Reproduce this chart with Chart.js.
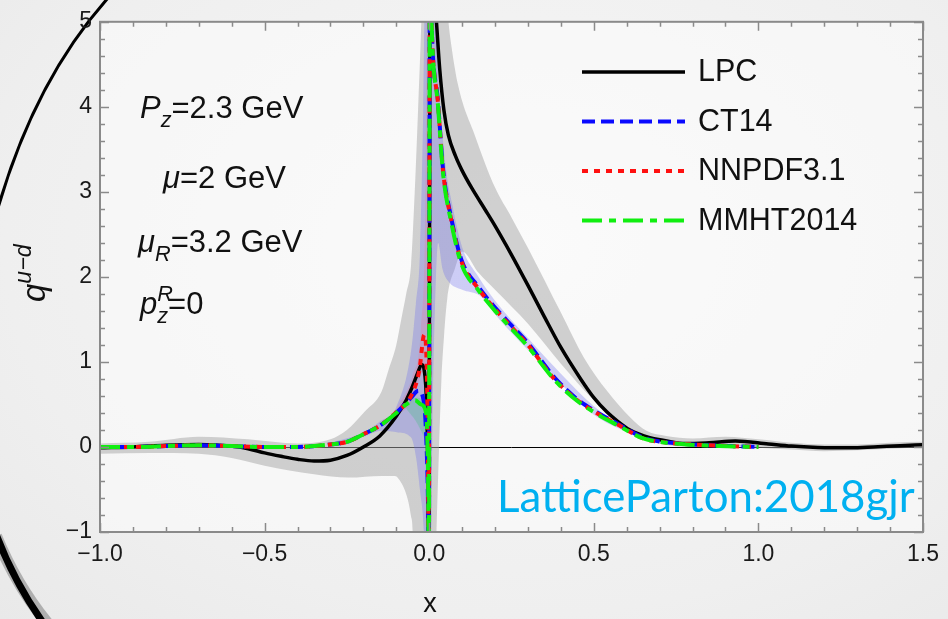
<!DOCTYPE html>
<html>
<head>
<meta charset="utf-8">
<script src="https://cdn.jsdelivr.net/npm/chart.js@4.4.1/dist/chart.umd.min.js"></script>
<style>
  html, body { margin: 0; padding: 0; }
  body { width: 948px; height: 619px; background: radial-gradient(ellipse at 55% 40%, #f7f7f7 0%, #efefef 70%, #e9e9e9 100%); }
  #wrap { position: relative; width: 948px; height: 619px; }
</style>
</head>
<body>
<div id="wrap"><canvas id="myChart" width="948" height="619"></canvas></div>
<script>
'use strict';
// данные

// LPC (чёрная линия)
const lpcX = [-1.0, -0.9, -0.8, -0.7, -0.6, -0.55, -0.5, -0.45, -0.4, -0.35, -0.3, -0.25, -0.2, -0.15, -0.1, -0.07, -0.05, -0.035, -0.023, -0.015, -0.008, -0.004, -0.001,
  0.003, 0.022, 0.032, 0.045, 0.058, 0.08, 0.1, 0.13, 0.17, 0.2, 0.25, 0.3, 0.35, 0.4, 0.46, 0.5, 0.54, 0.57, 0.61, 0.67, 0.71, 0.78, 0.85, 0.93, 1.03, 1.1, 1.18, 1.28, 1.35, 1.43, 1.5];
const lpcY = [-0.01, 0.0, 0.02, 0.03, 0.01, -0.02, -0.07, -0.11, -0.145, -0.165, -0.155, -0.1, 0.0, 0.13, 0.36, 0.55, 0.72, 0.87, 0.97, 0.9, 0.5, -0.3, -1.5,
  6.0, 5.0, 4.44, 3.95, 3.67, 3.42, 3.25, 3.04, 2.79, 2.6, 2.26, 1.9, 1.53, 1.17, 0.8, 0.58, 0.41, 0.31, 0.2, 0.11, 0.08, 0.04, 0.05, 0.07, 0.035, 0.01, -0.005, -0.01, 0.0, 0.015, 0.025];

// общая правая ветвь для CT14 / NNPDF / MMHT
const pdfRightX = [0.002, 0.007, 0.027, 0.042, 0.067, 0.098, 0.15, 0.2, 0.25, 0.3, 0.38, 0.45, 0.5, 0.57, 0.65, 0.7, 0.78, 0.88, 1.0];
const ct14RightY = [6.0, 5.0, 4.05, 3.27, 2.69, 2.2, 1.88, 1.64, 1.43, 1.22, 0.82, 0.56, 0.43, 0.28, 0.11, 0.065, 0.035, 0.015, 0.0];
const nnpdfRightY = [6.0, 5.0, 4.03, 3.25, 2.67, 2.18, 1.86, 1.62, 1.41, 1.2, 0.8, 0.55, 0.42, 0.27, 0.1, 0.06, 0.035, 0.015, 0.0];
const mmhtRightY = [6.0, 5.0, 4.0, 3.22, 2.64, 2.15, 1.84, 1.6, 1.39, 1.18, 0.79, 0.54, 0.41, 0.26, 0.1, 0.06, 0.03, 0.012, 0.0];

// левая ветвь
const ct14LeftX = [-1.0, -0.9, -0.8, -0.7, -0.6, -0.5, -0.4, -0.35, -0.3, -0.25, -0.2, -0.15, -0.1, -0.055, -0.033, -0.02, -0.01, -0.003, -0.001];
const ct14LeftY = [0.0, 0.0, 0.01, 0.02, 0.01, 0.0, 0.0, 0.01, 0.03, 0.06, 0.15, 0.25, 0.4, 0.58, 0.66, 0.6, 0.2, -0.8, -1.5];
const nnpdfLeftX = [-1.0, -0.9, -0.8, -0.7, -0.6, -0.5, -0.4, -0.35, -0.3, -0.25, -0.2, -0.15, -0.1, -0.055, -0.03, -0.015, -0.008, -0.004, -0.001];
const nnpdfLeftY = [0.0, 0.0, 0.01, 0.02, 0.01, 0.0, 0.0, 0.01, 0.03, 0.06, 0.15, 0.25, 0.41, 0.6, 0.9, 1.32, 1.0, 0.0, -1.5];
const mmhtLeftX = [-1.0, -0.9, -0.8, -0.7, -0.6, -0.5, -0.4, -0.35, -0.3, -0.25, -0.2, -0.15, -0.1, -0.07, -0.043, -0.025, -0.009, -0.003, -0.001];
const mmhtLeftY = [0.0, 0.0, 0.01, 0.02, 0.01, 0.0, 0.0, 0.01, 0.03, 0.06, 0.15, 0.25, 0.4, 0.5, 0.55, 0.5, 0.39, -0.5, -1.5];

// полоса ошибок LPC
const lpcHiX = [-1.0, -0.85, -0.7, -0.55, -0.4, -0.3, -0.25, -0.195, -0.145, -0.124, -0.1, -0.085, -0.07, -0.055, -0.044, -0.033, -0.024, -0.02,
  0.04, 0.063, 0.088, 0.139, 0.2, 0.25, 0.3, 0.4, 0.47, 0.54, 0.61, 0.66, 0.72, 0.8, 0.9, 1.0, 1.1, 1.2, 1.3, 1.4, 1.5];
const lpcHiY = [0.04, 0.06, 0.12, 0.09, 0.04, 0.09, 0.2, 0.42, 0.65, 0.9, 1.2, 1.5, 1.8, 2.15, 3.0, 4.05, 5.0, 5.6,
  5.6, 4.84, 4.25, 3.66, 3.05, 2.7, 2.34, 1.58, 1.05, 0.66, 0.35, 0.19, 0.13, 0.1, 0.12, 0.09, 0.05, 0.03, 0.03, 0.05, 0.06];
const lpcLoX = [-1.0, -0.85, -0.7, -0.6, -0.5, -0.35, -0.245, -0.145, -0.104, -0.085, -0.074, -0.063, -0.055, -0.05, -0.048,
  0.018, 0.022, 0.03, 0.037, 0.045, 0.055, 0.078, 0.1, 0.15, 0.2, 0.3, 0.4, 0.5, 0.57, 0.62, 0.7, 0.8, 0.9, 1.0, 1.1, 1.2, 1.3, 1.4, 1.5];
const lpcLoY = [-0.08, -0.07, -0.08, -0.13, -0.22, -0.32, -0.36, -0.34, -0.34, -0.42, -0.51, -0.65, -0.82, -1.0, -1.5,
  -1.5, -1.0, 0.0, 0.78, 1.3, 1.75, 2.1, 2.3, 2.05, 1.85, 1.45, 0.98, 0.55, 0.3, 0.15, 0.04, 0.0, 0.02, -0.01, -0.03, -0.05, -0.04, -0.02, -0.01];

// полоса ошибок CT14
const ct14HiX = [-0.3, -0.2, -0.15, -0.1, -0.055, -0.04, -0.028, -0.018, -0.012, 0.01, 0.03, 0.05, 0.07, 0.1, 0.15, 0.2, 0.3, 0.4, 0.5, 0.6, 0.7, 0.8, 1.0];
const ct14HiY = [0.05, 0.17, 0.3, 0.47, 1.13, 1.71, 2.3, 4.0, 5.6, 5.6, 4.2, 3.3, 2.85, 2.35, 2.0, 1.72, 1.28, 0.86, 0.48, 0.22, 0.08, 0.04, 0.02];
const ct14LoX = [-0.3, -0.2, -0.145, -0.094, -0.055, -0.04, -0.028, -0.016, -0.012, 0.004, 0.01, 0.018, 0.027, 0.04, 0.058, 0.1, 0.15, 0.17, 0.2, 0.3, 0.4, 0.5, 0.6, 0.7, 0.8, 1.0];
const ct14LoY = [0.01, 0.12, 0.19, 0.17, 0.11, -0.12, -0.51, -1.0, -1.5, -1.5, 0.3, 1.7, 2.4, 2.1, 1.95, 1.85, 1.79, 1.72, 1.56, 1.14, 0.74, 0.38, 0.18, 0.05, 0.02, -0.02];

// полоса NNPDF и MMHT около нуля
const nnpdfHiX = [-0.1, -0.05, -0.025, -0.012, -0.006];
const nnpdfHiY = [0.45, 0.85, 1.4, 2.8, 5.6];
const nnpdfLoX = [-0.1, -0.05, -0.025, -0.012, -0.006];
const nnpdfLoY = [0.37, 0.55, 0.85, 0.9, -1.5];
const mmhtHiX = [-0.07, -0.04, -0.02, -0.008];
const mmhtHiY = [0.5, 0.58, 0.55, 0.45];
const mmhtLoX = [-0.07, -0.04, -0.02, -0.008];
const mmhtLoY = [0.45, 0.3, 0.15, 0.05];

const xTicks = [-1.0, -0.5, 0.0, 0.5, 1.0, 1.5];
const yTicks = [-1, 0, 1, 2, 3, 4, 5];

const toPts = (xs, ys) => xs.map((x, i) => ({x: x, y: ys[i]}));

const FONT = "'Liberation Sans', Arial, sans-serif";

// полоса: верхняя граница заливается до следующей (нижней)
function band(xh, yh, xl, yl, color, order) {
  return [
    {data: toPts(xh, yh), borderWidth: 0, pointRadius: 0, fill: '+1', backgroundColor: color, order: order, cubicInterpolationMode: 'monotone'},
    {data: toPts(xl, yl), borderWidth: 0, pointRadius: 0, fill: false, order: order, cubicInterpolationMode: 'monotone'}
  ];
}

function curve(label, pts, color, dash, width, order) {
  return {label: label, data: pts, borderColor: color, borderDash: dash, borderWidth: width,
    pointRadius: 0, fill: false, order: order, cubicInterpolationMode: 'monotone', borderCapStyle: 'butt'};
}

const ct14Pts = toPts(ct14LeftX.concat(pdfRightX), ct14LeftY.concat(ct14RightY));
const nnpdfPts = toPts(nnpdfLeftX.concat(pdfRightX), nnpdfLeftY.concat(nnpdfRightY));
const mmhtPts = toPts(mmhtLeftX.concat(pdfRightX), mmhtLeftY.concat(mmhtRightY));

const legendItems = [
  curve('LPC', toPts(lpcX, lpcY), '#000000', [], 3.5, 3),
  curve('CT14', ct14Pts, '#0a0aff', [13, 6], 4, 2),
  curve('NNPDF3.1', nnpdfPts, '#ff1010', [6, 6], 4, 1),
  curve('MMHT2014', mmhtPts, '#10ee10', [20, 7, 7, 7], 4, 0)
];

const datasets = legendItems.concat(
  band(lpcHiX, lpcHiY, lpcLoX, lpcLoY, 'rgba(165,165,165,0.5)', 20),
  band(ct14HiX, ct14HiY, ct14LoX, ct14LoY, 'rgba(110,110,235,0.32)', 18),
  band(nnpdfHiX, nnpdfHiY, nnpdfLoX, nnpdfLoY, 'rgba(235,110,140,0.25)', 17),
  band(mmhtHiX, mmhtHiY, mmhtLoX, mmhtLoY, 'rgba(80,190,140,0.35)', 16)
);

// текст с курсивом, индексами
function richText(ctx, x, y, parts, size) {
  let cx = x;
  parts.forEach(p => {
    const s = p.sub || p.sup ? size * 0.7 : size;
    ctx.font = (p.it ? 'italic ' : '') + s + 'px ' + FONT;
    let dy = 0;
    if (p.sub) dy = size * 0.28;
    if (p.sup) dy = -size * 0.42;
    ctx.fillText(p.t, cx, y + dy);
    if (!p.stack) cx += ctx.measureText(p.t).width;
  });
  return cx;
}

const decor = {
  id: 'decor',
  beforeDraw(chart) {
    const {ctx, chartArea: a} = chart;
    ctx.save();
    ctx.fillStyle = 'rgba(255,255,255,0.45)';
    ctx.fillRect(a.left, a.top, a.right - a.left, a.bottom - a.top);
    // дуги слайда
    ctx.strokeStyle = '#000';
    ctx.lineWidth = 3;
    ctx.beginPath();
    ctx.moveTo(108, -2);
    ctx.quadraticCurveTo(35, 80, -2, 208);
    ctx.stroke();
    ctx.strokeStyle = 'rgba(0,0,0,0.25)';
    ctx.lineWidth = 12;
    ctx.beginPath();
    ctx.moveTo(-4, 536);
    ctx.quadraticCurveTo(16, 585, 48, 624);
    ctx.stroke();
    ctx.strokeStyle = '#000';
    ctx.lineWidth = 7;
    ctx.beginPath();
    ctx.moveTo(-4, 534);
    ctx.quadraticCurveTo(14, 582, 44, 624);
    ctx.stroke();
    ctx.restore();
  },
  beforeDatasetsDraw(chart) {
    const {ctx, chartArea: a, scales: {y}} = chart;
    ctx.save();
    ctx.strokeStyle = '#000';
    ctx.lineWidth = 1;
    const y0 = Math.round(y.getPixelForValue(0)) + 0.5;
    ctx.beginPath();
    ctx.moveTo(a.left, y0);
    ctx.lineTo(a.right, y0);
    ctx.stroke();
    ctx.restore();
  },
  afterDraw(chart) {
    const {ctx, chartArea: a, scales: {x, y}} = chart;
    ctx.save();
    // рамка и засечки внутрь
    ctx.strokeStyle = '#8a8a8a';
    ctx.lineWidth = 2;
    ctx.strokeRect(a.left, a.top, a.right - a.left, a.bottom - a.top);
    ctx.lineWidth = 1.5;
    ctx.beginPath();
    for (let i = 0; i <= 25; i++) {
      const v = -1 + i * 0.1;
      const px = Math.round(x.getPixelForValue(v)) + 0.5;
      const len = i % 5 === 0 ? 9 : 5;
      ctx.moveTo(px, a.bottom); ctx.lineTo(px, a.bottom - len);
      ctx.moveTo(px, a.top); ctx.lineTo(px, a.top + len);
    }
    for (let i = 0; i <= 30; i++) {
      const v = -1 + i * 0.2;
      const py = Math.round(y.getPixelForValue(v)) + 0.5;
      const len = i % 5 === 0 ? 9 : 5;
      ctx.moveTo(a.left, py); ctx.lineTo(a.left + len, py);
      ctx.moveTo(a.right, py); ctx.lineTo(a.right - len, py);
    }
    ctx.stroke();

    // легенда
    ctx.textBaseline = 'middle';
    legendItems.forEach((d, i) => {
      const ly = 72 + i * 49.5;
      ctx.strokeStyle = d.borderColor;
      ctx.lineWidth = d.borderWidth;
      ctx.setLineDash(d.borderDash);
      ctx.beginPath();
      ctx.moveTo(582, ly);
      ctx.lineTo(685, ly);
      ctx.stroke();
      ctx.setLineDash([]);
      ctx.fillStyle = '#111';
      ctx.font = '30.5px ' + FONT;
      ctx.fillText(d.label, 698, ly + 1);
    });

    // параметры
    ctx.textBaseline = 'alphabetic';
    ctx.fillStyle = '#111';
    const fs = 31;
    richText(ctx, 140, 118, [{t: 'P', it: true}, {t: 'z', it: true, sub: true}, {t: '=2.3 GeV'}], fs);
    richText(ctx, 163, 188, [{t: 'μ', it: true}, {t: '=2 GeV'}], fs);
    richText(ctx, 138, 252, [{t: 'μ', it: true}, {t: 'R', it: true, sub: true}, {t: '=3.2 GeV'}], fs);
    richText(ctx, 140, 314, [{t: 'p', it: true}, {t: 'R', it: true, sup: true, stack: true}, {t: 'z', it: true, sub: true}, {t: '=0'}], fs);

    // подпись ссылки
    ctx.fillStyle = '#00b0f0';
    ctx.font = '42px Lato, sans-serif';
    const w = ctx.measureText('LatticeParton:2018gjr').width;
    const fz = 42 * 418 / w;
    ctx.font = fz.toFixed(1) + 'px Lato, sans-serif';
    ctx.fillText('LatticeParton:2018gjr', 497, 512);

    // подписи осей
    ctx.fillStyle = '#111';
    ctx.font = '27px ' + FONT;
    ctx.textAlign = 'center';
    ctx.fillText('x', 430, 612);
    ctx.textAlign = 'left';
    ctx.translate(45, 302);
    ctx.rotate(-Math.PI / 2);
    richText(ctx, 0, 0, [{t: 'q', it: true}, {t: 'u−d', it: true, sup: true}], 33);
    ctx.restore();
  }
};

const ctx = document.getElementById('myChart').getContext('2d');
const chart = new Chart(ctx, {
  type: 'line',
  data: {datasets: datasets},
  options: {
    responsive: false,
    animation: false,
    layout: {padding: {top: 19, right: 21, left: 0, bottom: 0}},
    plugins: {legend: {display: false}, tooltip: {enabled: false}},
    elements: {line: {tension: 0}},
    scales: {
      x: {
        type: 'linear', min: -1, max: 1.5,
        afterFit(s) { s.height = 87; },
        afterBuildTicks(s) { s.ticks = xTicks.map(v => ({value: v})); },
        grid: {display: false, drawTicks: false},
        border: {display: false},
        ticks: {
          padding: 9, color: '#1a1a1a', font: {family: FONT, size: 23}, maxRotation: 0,
          callback: v => v.toFixed(1).replace('-', '−')
        }
      },
      y: {
        type: 'linear', min: -1, max: 5,
        afterFit(s) { s.width = 100; },
        afterBuildTicks(s) { s.ticks = yTicks.map(v => ({value: v})); },
        grid: {display: false, drawTicks: false},
        border: {display: false},
        ticks: {
          padding: 8, color: '#1a1a1a', font: {family: FONT, size: 23},
          callback: v => String(v).replace('-', '−')
        }
      }
    }
  },
  plugins: [decor]
});
</script>
</body>
</html>
